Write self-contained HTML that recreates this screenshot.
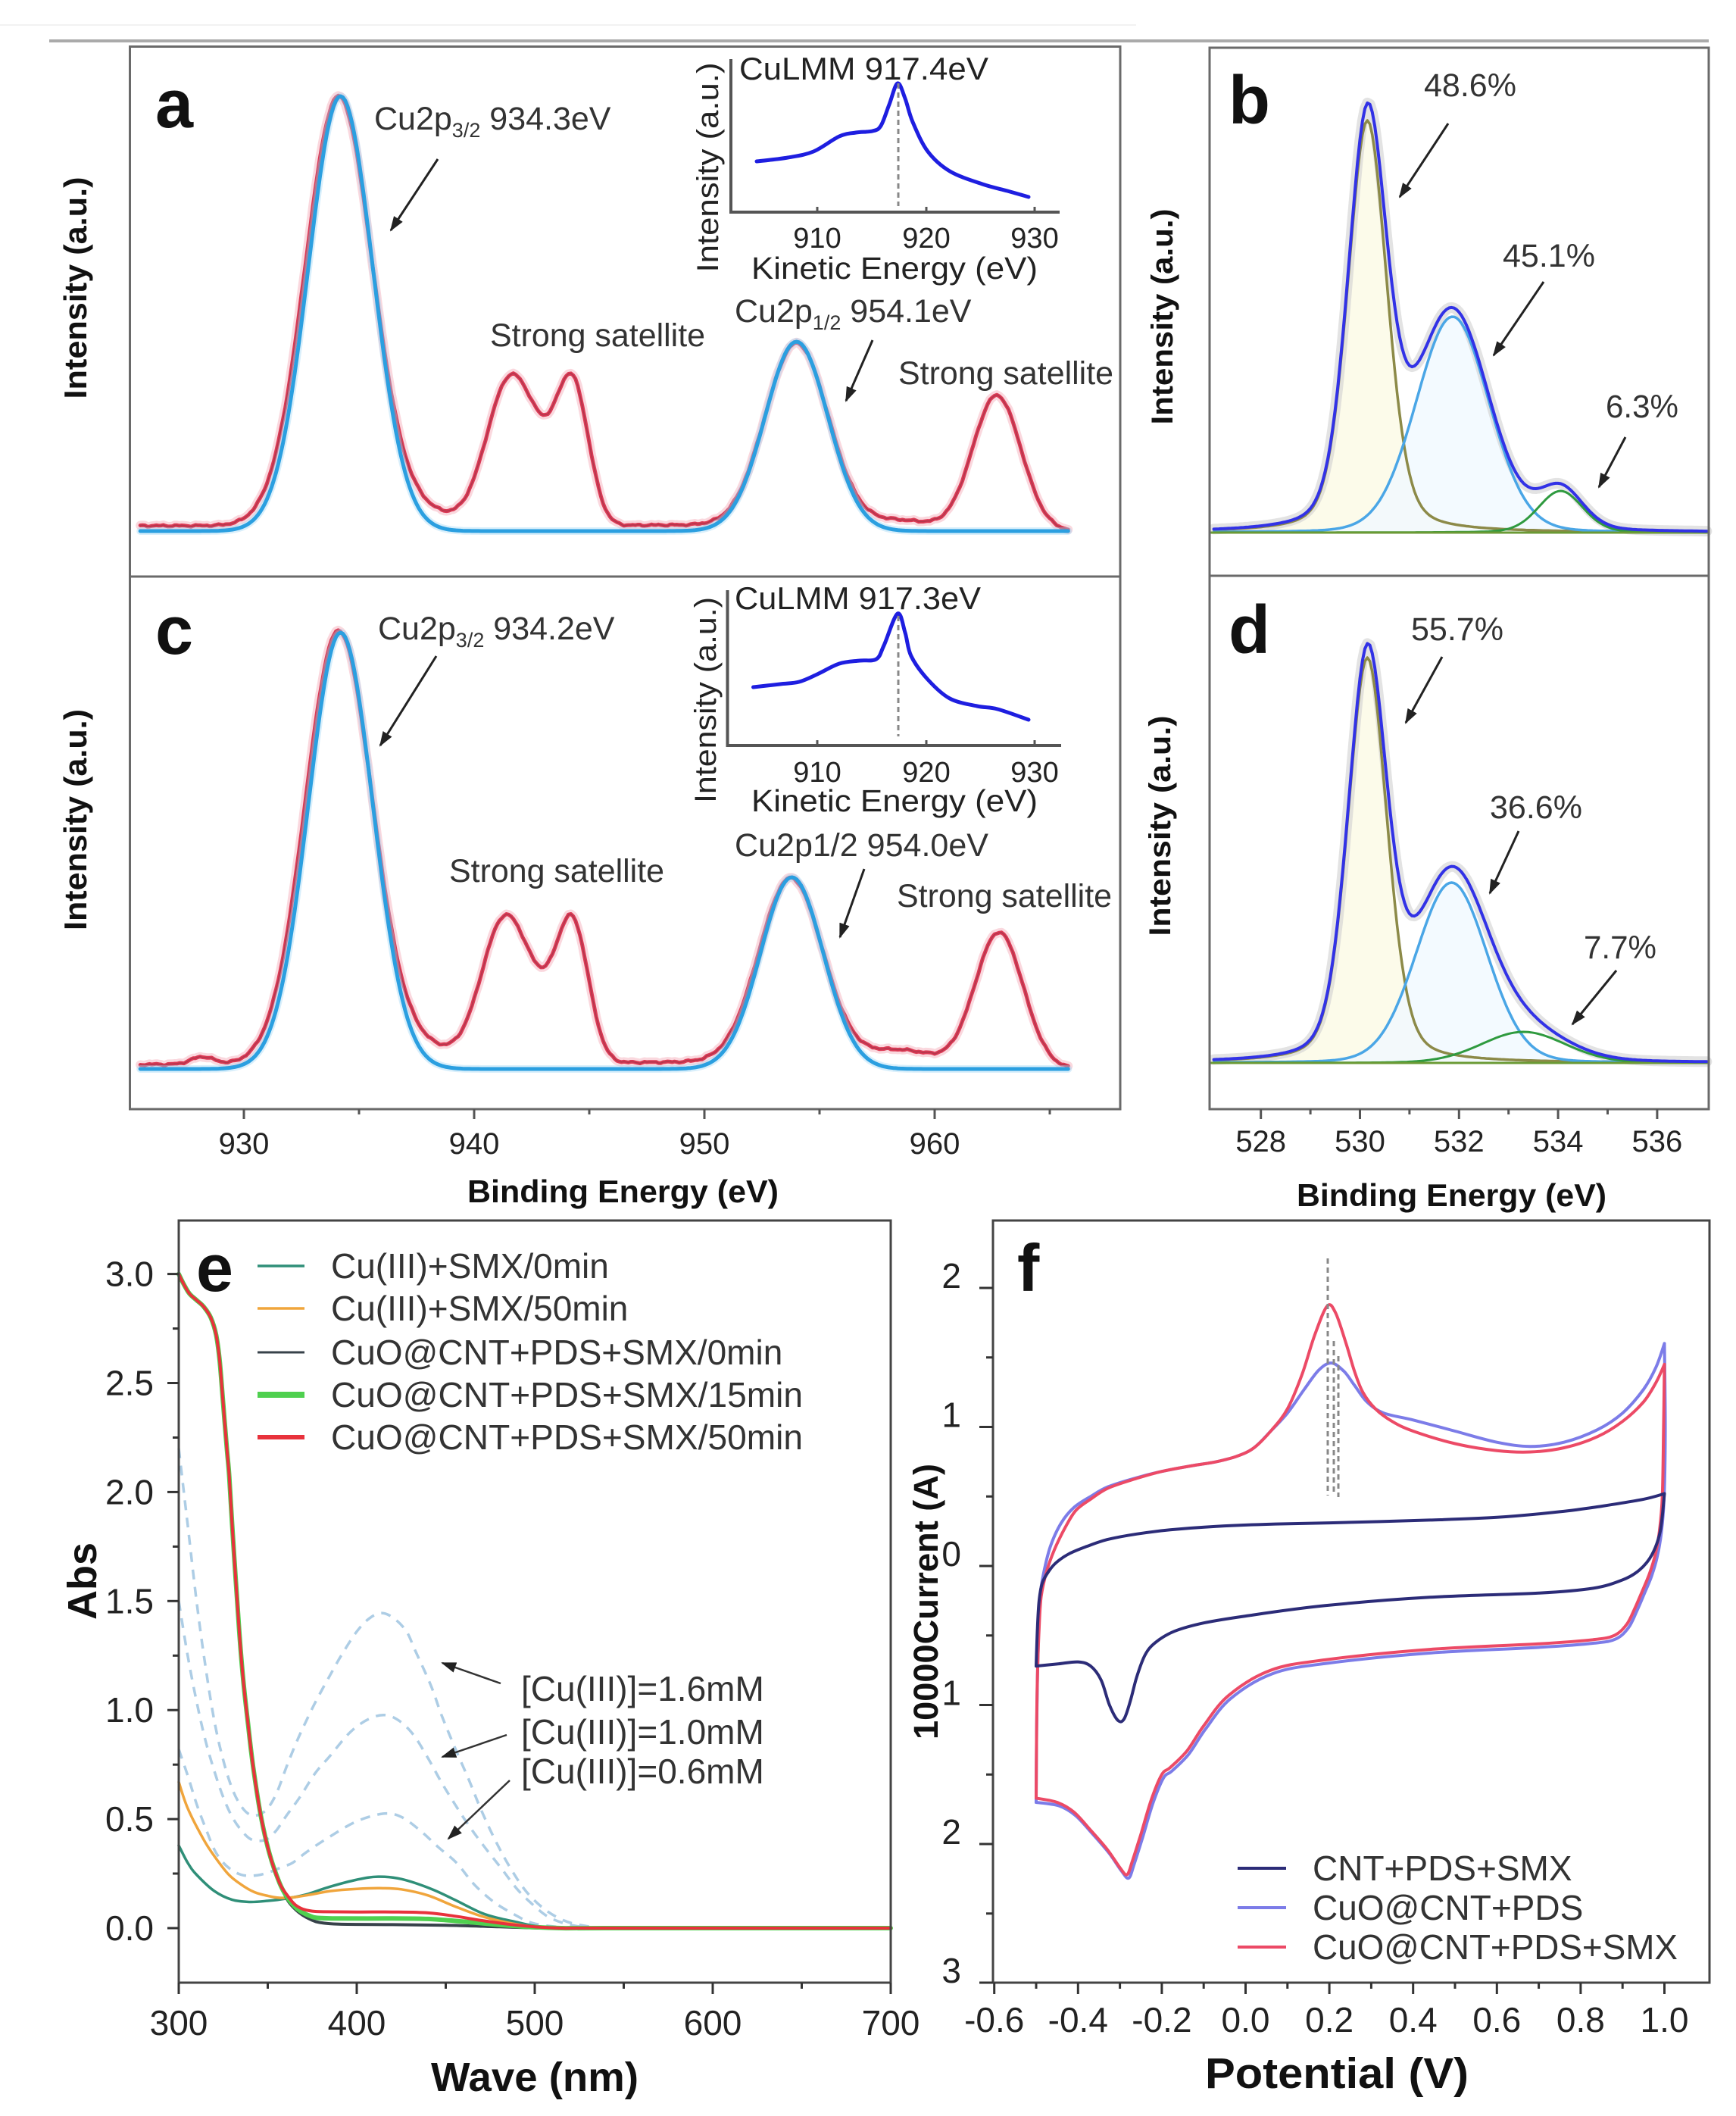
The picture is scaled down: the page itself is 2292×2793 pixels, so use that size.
<!DOCTYPE html>
<html><head><meta charset="utf-8"><title>XPS / UV / CV figure</title>
<style>
html,body{margin:0;padding:0;background:#fff;width:2292px;height:2793px;overflow:hidden}
svg text{font-family:"Liberation Sans",Arial,sans-serif;}
</style></head><body>
<svg id="s" xmlns="http://www.w3.org/2000/svg" width="2292" height="2793" viewBox="0 0 2292 2793">
<defs>
<marker id="ah" markerUnits="userSpaceOnUse" markerWidth="20" markerHeight="14" viewBox="0 0 20 14" refX="18" refY="7" orient="auto"><path d="M0,0 L20,7 L0,14 Z" fill="#222"/></marker>
</defs>
<rect width="2292" height="2793" fill="#fff"/>
<line x1="0" y1="33" x2="1500" y2="33" stroke="#f2f2f2" stroke-width="2"/>
<line x1="65" y1="54" x2="2256" y2="54" stroke="#aaa" stroke-width="4"/>

<g id="L"></g>

<!-- frames -->
<g fill="none" stroke="#6a6a6a" stroke-width="3">
<rect x="171.5" y="61.5" width="1307.5" height="1402.5"/>
<line x1="171.5" y1="761" x2="1479" y2="761"/>
<rect x="1597" y="63" width="659" height="1401"/>
<line x1="1597" y1="760" x2="2256" y2="760"/>
</g>
<g fill="none" stroke="#444" stroke-width="3">
<rect x="236" y="1611" width="940" height="1006"/>
<rect x="1311" y="1611" width="946" height="1006"/>
</g>

<!-- ticks a/c -->
<g stroke="#555" stroke-width="3">
<line x1="322" y1="1464" x2="322" y2="1477"/><line x1="626" y1="1464" x2="626" y2="1477"/><line x1="930" y1="1464" x2="930" y2="1477"/><line x1="1234" y1="1464" x2="1234" y2="1477"/>
<line x1="474" y1="1464" x2="474" y2="1471"/><line x1="778" y1="1464" x2="778" y2="1471"/><line x1="1082" y1="1464" x2="1082" y2="1471"/><line x1="1386" y1="1464" x2="1386" y2="1471"/>
<line x1="1664.7" y1="1464" x2="1664.7" y2="1477"/><line x1="1795.5" y1="1464" x2="1795.5" y2="1477"/><line x1="1926.3" y1="1464" x2="1926.3" y2="1477"/><line x1="2057.1" y1="1464" x2="2057.1" y2="1477"/><line x1="2187.9" y1="1464" x2="2187.9" y2="1477"/>
<line x1="1730.1" y1="1464" x2="1730.1" y2="1471"/><line x1="1860.9" y1="1464" x2="1860.9" y2="1471"/><line x1="1991.7" y1="1464" x2="1991.7" y2="1471"/><line x1="2122.5" y1="1464" x2="2122.5" y2="1471"/>
</g>
<g stroke="#333" stroke-width="3">
<line x1="236" y1="2617" x2="236" y2="2632"/><line x1="471" y1="2617" x2="471" y2="2632"/><line x1="706" y1="2617" x2="706" y2="2632"/><line x1="941" y1="2617" x2="941" y2="2632"/><line x1="1176" y1="2617" x2="1176" y2="2632"/>
<line x1="353.5" y1="2617" x2="353.5" y2="2625"/><line x1="588.5" y1="2617" x2="588.5" y2="2625"/><line x1="823.5" y1="2617" x2="823.5" y2="2625"/><line x1="1058.5" y1="2617" x2="1058.5" y2="2625"/>
<line x1="221" y1="2545" x2="236" y2="2545"/><line x1="221" y1="2401.1" x2="236" y2="2401.1"/><line x1="221" y1="2257.2" x2="236" y2="2257.2"/><line x1="221" y1="2113.3" x2="236" y2="2113.3"/><line x1="221" y1="1969.4" x2="236" y2="1969.4"/><line x1="221" y1="1825.5" x2="236" y2="1825.5"/><line x1="221" y1="1681.6" x2="236" y2="1681.6"/>
<line x1="228" y1="2473" x2="236" y2="2473"/><line x1="228" y1="2329.2" x2="236" y2="2329.2"/><line x1="228" y1="2185.3" x2="236" y2="2185.3"/><line x1="228" y1="2041.4" x2="236" y2="2041.4"/><line x1="228" y1="1897.5" x2="236" y2="1897.5"/><line x1="228" y1="1753.6" x2="236" y2="1753.6"/>
<line x1="1312.7" y1="2617" x2="1312.7" y2="2632"/><line x1="1423.3" y1="2617" x2="1423.3" y2="2632"/><line x1="1533.9" y1="2617" x2="1533.9" y2="2632"/><line x1="1644.5" y1="2617" x2="1644.5" y2="2632"/><line x1="1755.1" y1="2617" x2="1755.1" y2="2632"/><line x1="1865.7" y1="2617" x2="1865.7" y2="2632"/><line x1="1976.3" y1="2617" x2="1976.3" y2="2632"/><line x1="2086.9" y1="2617" x2="2086.9" y2="2632"/><line x1="2197.5" y1="2617" x2="2197.5" y2="2632"/>
<line x1="1368" y1="2617" x2="1368" y2="2625"/><line x1="1478.6" y1="2617" x2="1478.6" y2="2625"/><line x1="1589.2" y1="2617" x2="1589.2" y2="2625"/><line x1="1699.8" y1="2617" x2="1699.8" y2="2625"/><line x1="1810.4" y1="2617" x2="1810.4" y2="2625"/><line x1="1921" y1="2617" x2="1921" y2="2625"/><line x1="2031.6" y1="2617" x2="2031.6" y2="2625"/><line x1="2142.2" y1="2617" x2="2142.2" y2="2625"/>
<line x1="1293" y1="1700" x2="1311" y2="1700"/><line x1="1293" y1="1883.5" x2="1311" y2="1883.5"/><line x1="1293" y1="2067" x2="1311" y2="2067"/><line x1="1293" y1="2250.5" x2="1311" y2="2250.5"/><line x1="1293" y1="2434" x2="1311" y2="2434"/><line x1="1293" y1="2617" x2="1311" y2="2617"/>
<line x1="1302" y1="1791.75" x2="1311" y2="1791.75"/><line x1="1302" y1="1975.25" x2="1311" y2="1975.25"/><line x1="1302" y1="2158.75" x2="1311" y2="2158.75"/><line x1="1302" y1="2342.25" x2="1311" y2="2342.25"/><line x1="1302" y1="2525.75" x2="1311" y2="2525.75"/>
</g>

<!-- insets axes -->
<g fill="none" stroke="#555" stroke-width="4">
<polyline points="965,78 965,280 1399,280"/>
<polyline points="960.5,779 960.5,984 1401,984"/>
</g>
<g stroke="#555" stroke-width="3">
<line x1="1079" y1="280" x2="1079" y2="273"/><line x1="1223" y1="280" x2="1223" y2="273"/><line x1="1366" y1="280" x2="1366" y2="273"/>
<line x1="1079" y1="984" x2="1079" y2="977"/><line x1="1223" y1="984" x2="1223" y2="977"/><line x1="1366" y1="984" x2="1366" y2="977"/>
</g>
<g stroke="#888" stroke-width="3" stroke-dasharray="7,5">
<line x1="1186" y1="110" x2="1186" y2="272"/>
<line x1="1186" y1="813" x2="1186" y2="972"/>
<line x1="1753" y1="1661" x2="1753" y2="1974"/>
<line x1="1761" y1="1770" x2="1761" y2="1972"/>
<line x1="1767" y1="1790" x2="1767" y2="1976"/>
</g>

<!-- arrows -->
<g stroke="#222" stroke-width="3" marker-end="url(#ah)">
<line x1="578" y1="210" x2="516" y2="304"/>
<line x1="1152" y1="449" x2="1117" y2="529"/>
<line x1="576" y1="866" x2="502" y2="984"/>
<line x1="1141" y1="1147" x2="1109" y2="1237"/>
<line x1="1912" y1="163" x2="1848" y2="260"/>
<line x1="2038" y1="372" x2="1972" y2="469"/>
<line x1="2146" y1="577" x2="2111" y2="643"/>
<line x1="1904" y1="867" x2="1856" y2="954"/>
<line x1="2005" y1="1097" x2="1967" y2="1179"/>
<line x1="2134" y1="1281" x2="2076" y2="1352"/>
</g>
<g stroke="#333" stroke-width="2.5" marker-end="url(#ah)">
<line x1="661" y1="2222" x2="584" y2="2195"/>
<line x1="669" y1="2290" x2="584" y2="2319"/>
<line x1="673" y1="2350" x2="592" y2="2427"/>
</g>

<!-- panel letters -->
<g fill="#111">
<text x="205" y="168" font-size="90" font-weight="bold">a</text>
<text x="205" y="863" font-size="90" font-weight="bold">c</text>
<text x="1622" y="163" font-size="90" font-weight="bold">b</text>
<text x="1622" y="862" font-size="90" font-weight="bold">d</text>
<text x="259" y="1704" font-size="88" font-weight="bold">e</text>
<text x="1343" y="1704" font-size="88" font-weight="bold">f</text>
</g>
<g fill="#333" font-size="43">
<text x="494" y="171">Cu2p<tspan font-size="27" dy="10">3/2</tspan><tspan font-size="43" dy="-10"> 934.3eV</tspan></text>
<text x="647" y="457" textLength="284" lengthAdjust="spacingAndGlyphs">Strong satellite</text>
<text x="970" y="425">Cu2p<tspan font-size="27" dy="10">1/2</tspan><tspan font-size="43" dy="-10"> 954.1eV</tspan></text>
<text x="1186" y="507" textLength="284" lengthAdjust="spacingAndGlyphs">Strong satellite</text>
<text x="499" y="844">Cu2p<tspan font-size="27" dy="10">3/2</tspan><tspan font-size="43" dy="-10"> 934.2eV</tspan></text>
<text x="593" y="1164" textLength="284" lengthAdjust="spacingAndGlyphs">Strong satellite</text>
<text x="970" y="1130" textLength="335" lengthAdjust="spacingAndGlyphs">Cu2p1/2 954.0eV</text>
<text x="1184" y="1197" textLength="284" lengthAdjust="spacingAndGlyphs">Strong satellite</text>
<text x="1880" y="127" textLength="122" lengthAdjust="spacingAndGlyphs">48.6%</text>
<text x="1984" y="352" textLength="122" lengthAdjust="spacingAndGlyphs">45.1%</text>
<text x="2120" y="551" textLength="96" lengthAdjust="spacingAndGlyphs">6.3%</text>
<text x="1863" y="845" textLength="122" lengthAdjust="spacingAndGlyphs">55.7%</text>
<text x="1967" y="1080" textLength="122" lengthAdjust="spacingAndGlyphs">36.6%</text>
<text x="2091" y="1265" textLength="96" lengthAdjust="spacingAndGlyphs">7.7%</text>
</g>
<!-- inset texts -->
<g fill="#222">
<text x="976" y="105" font-size="42" textLength="329" lengthAdjust="spacingAndGlyphs">CuLMM 917.4eV</text>
<text x="1079" y="327" font-size="38" text-anchor="middle">910</text>
<text x="1223" y="327" font-size="38" text-anchor="middle">920</text>
<text x="1366" y="327" font-size="38" text-anchor="middle">930</text>
<text x="992" y="368" font-size="41" textLength="378" lengthAdjust="spacingAndGlyphs">Kinetic Energy (eV)</text>
<text transform="translate(948,221) rotate(-90)" text-anchor="middle" font-size="40" textLength="277" lengthAdjust="spacingAndGlyphs">Intensity (a.u.)</text>
<text x="970" y="804" font-size="42" textLength="325" lengthAdjust="spacingAndGlyphs">CuLMM 917.3eV</text>
<text x="1079" y="1032" font-size="38" text-anchor="middle">910</text>
<text x="1223" y="1032" font-size="38" text-anchor="middle">920</text>
<text x="1366" y="1032" font-size="38" text-anchor="middle">930</text>
<text x="992" y="1071" font-size="41" textLength="378" lengthAdjust="spacingAndGlyphs">Kinetic Energy (eV)</text>
<text transform="translate(945,924) rotate(-90)" text-anchor="middle" font-size="40" textLength="272" lengthAdjust="spacingAndGlyphs">Intensity (a.u.)</text>
</g>
<!-- axis labels -->
<g fill="#111">
<text transform="translate(114,380) rotate(-90)" text-anchor="middle" font-size="42" font-weight="bold" textLength="293" lengthAdjust="spacingAndGlyphs">Intensity (a.u.)</text>
<text transform="translate(114,1082) rotate(-90)" text-anchor="middle" font-size="42" font-weight="bold" textLength="292" lengthAdjust="spacingAndGlyphs">Intensity (a.u.)</text>
<text transform="translate(1548,418) rotate(-90)" text-anchor="middle" font-size="40" font-weight="bold" textLength="285" lengthAdjust="spacingAndGlyphs">Intensity (a.u.)</text>
<text transform="translate(1545,1090) rotate(-90)" text-anchor="middle" font-size="40" font-weight="bold" textLength="291" lengthAdjust="spacingAndGlyphs">Intensity (a.u.)</text>
<text x="617" y="1587" font-size="42" font-weight="bold" textLength="411" lengthAdjust="spacingAndGlyphs">Binding Energy (eV)</text>
<text x="1712" y="1592" font-size="42" font-weight="bold" textLength="409" lengthAdjust="spacingAndGlyphs">Binding Energy (eV)</text>
<text transform="translate(127,2087) rotate(-90)" text-anchor="middle" font-size="54" font-weight="bold">Abs</text>
<text x="569" y="2760" font-size="54" font-weight="bold" textLength="274" lengthAdjust="spacingAndGlyphs">Wave (nm)</text>
<text transform="translate(1238,2114) rotate(-90)" text-anchor="middle" font-size="45" font-weight="bold" textLength="364" lengthAdjust="spacingAndGlyphs">10000Current (A)</text>
<text x="1591" y="2756" font-size="57" font-weight="bold" textLength="348" lengthAdjust="spacingAndGlyphs">Potential (V)</text>
</g>
<!-- tick labels -->
<g fill="#222" font-size="40" text-anchor="middle">
<text x="322" y="1523">930</text><text x="626" y="1523">940</text><text x="930" y="1523">950</text><text x="1234" y="1523">960</text>
<text x="1664.7" y="1520">528</text><text x="1795.5" y="1520">530</text><text x="1926.3" y="1520">532</text><text x="2057.1" y="1520">534</text><text x="2187.9" y="1520">536</text>
</g>
<g fill="#222" font-size="46" text-anchor="end">
<text x="203" y="1697.6">3.0</text><text x="203" y="1841.5">2.5</text><text x="203" y="1985.4">2.0</text><text x="203" y="2129.3">1.5</text><text x="203" y="2273.2">1.0</text><text x="203" y="2417.1">0.5</text><text x="203" y="2561">0.0</text>
<text x="1269" y="1700">2</text><text x="1269" y="1883.5">1</text><text x="1269" y="2067">0</text><text x="1269" y="2250.5">1</text><text x="1269" y="2434">2</text><text x="1269" y="2617">3</text>
</g>
<g fill="#222" font-size="46" text-anchor="middle">
<text x="236" y="2686">300</text><text x="471" y="2686">400</text><text x="706" y="2686">500</text><text x="941" y="2686">600</text><text x="1176" y="2686">700</text>
<text x="1312.7" y="2682">-0.6</text><text x="1423.3" y="2682">-0.4</text><text x="1533.9" y="2682">-0.2</text><text x="1644.5" y="2682">0.0</text><text x="1755.1" y="2682">0.2</text><text x="1865.7" y="2682">0.4</text><text x="1976.3" y="2682">0.6</text><text x="2086.9" y="2682">0.8</text><text x="2197.5" y="2682">1.0</text>
</g>

<!-- legends -->
<g stroke-linecap="butt">
<line x1="340" y1="1671" x2="402" y2="1671" stroke="#2f8f78" stroke-width="3.5"/>
<line x1="340" y1="1727" x2="402" y2="1727" stroke="#f0a53c" stroke-width="3.5"/>
<line x1="340" y1="1785" x2="402" y2="1785" stroke="#37424a" stroke-width="3"/>
<line x1="340" y1="1841" x2="402" y2="1841" stroke="#4fd04f" stroke-width="8"/>
<line x1="340" y1="1897" x2="402" y2="1897" stroke="#e8323c" stroke-width="6"/>
<line x1="1634" y1="2466" x2="1698" y2="2466" stroke="#2c2c78" stroke-width="4"/>
<line x1="1634" y1="2518" x2="1698" y2="2518" stroke="#7c7ce8" stroke-width="4"/>
<line x1="1634" y1="2570" x2="1698" y2="2570" stroke="#ec4a66" stroke-width="4"/>
</g>
<g fill="#333" font-size="46">
<text x="437" y="1687">Cu(III)+SMX/0min</text>
<text x="437" y="1743">Cu(III)+SMX/50min</text>
<text x="437" y="1801">CuO@CNT+PDS+SMX/0min</text>
<text x="437" y="1857" textLength="623" lengthAdjust="spacingAndGlyphs">CuO@CNT+PDS+SMX/15min</text>
<text x="437" y="1913" textLength="623" lengthAdjust="spacingAndGlyphs">CuO@CNT+PDS+SMX/50min</text>
<text x="688" y="2245">[Cu(III)]=1.6mM</text>
<text x="688" y="2302">[Cu(III)]=1.0mM</text>
<text x="688" y="2354">[Cu(III)]=0.6mM</text>
<text x="1733" y="2482">CNT+PDS+SMX</text>
<text x="1733" y="2534">CuO@CNT+PDS</text>
<text x="1733" y="2586" textLength="482" lengthAdjust="spacingAndGlyphs">CuO@CNT+PDS+SMX</text>
</g>
</svg>
<script>
(function(){
var NS='http://www.w3.org/2000/svg', L=document.getElementById('L');
function r(v){return Math.round(v*10)/10;}
function add(d,a){var p=document.createElementNS(NS,'path');p.setAttribute('d',d);p.setAttribute('fill','none');p.setAttribute('stroke-linejoin','round');p.setAttribute('stroke-linecap','round');for(var k in a)p.setAttribute(k,a[k]);L.appendChild(p);return p;}
function poly(pts){return 'M'+pts.map(function(p){return r(p[0])+','+r(p[1]);}).join('L');}
function smooth(pts){
  var d='M'+r(pts[0][0])+','+r(pts[0][1]);
  for(var i=0;i<pts.length-1;i++){
    var p0=pts[i-1]||pts[i],p1=pts[i],p2=pts[i+1],p3=pts[i+2]||p2;
    var c1=[p1[0]+(p2[0]-p0[0])/6,p1[1]+(p2[1]-p0[1])/6];
    var c2=[p2[0]-(p3[0]-p1[0])/6,p2[1]-(p3[1]-p1[1])/6];
    d+='C'+r(c1[0])+','+r(c1[1])+' '+r(c2[0])+','+r(c2[1])+' '+r(p2[0])+','+r(p2[1]);
  }
  return d;
}
function G(x,c,a,s){var d=(x-c)/s;return a*Math.exp(-0.5*d*d);}
function PV(x,c,a,h,m){var d=(x-c)/h;return a*((1-m)*Math.exp(-0.693147*d*d)+m/(1+d*d));}
function sig(x,c,w){return 1/(1+Math.exp(-(x-c)/w));}
function sample(fn,e0,e1,st,X,Y){var o=[];for(var e=e0;e<=e1+1e-9;e+=st)o.push([X(e),Y(fn(e))]);return o;}
function tr(arr,X,Y){return arr.map(function(p){return [X(p[0]),Y(p[1])];});}
function noise(e,k){return 0.7*Math.sin(e*7.3+k)+0.5*Math.sin(e*13.7+2*k)+0.3*Math.sin(e*23.1+k);}

/* ---------- panels a & c ---------- */
var XA=function(e){return 322+(e-930)*30.4;};
var redA=function(e){return G(e,934.1,570,1.45)+G(e,937.5,25,1.8)+G(e,941.5,188,1.0)+G(e,943.0,60,0.9)+G(e,944.3,180,0.7)+7*(1-sig(e,931.5,0.4))+8*sig(e,945.5,0.5)*(1-sig(e,951,0.5))+G(e,954.0,248,1.38)+G(e,958.5,14,1.5)+G(e,962.7,179,1.05)+noise(e,0);};
var bluA=function(e){return G(e,934.2,574,1.4)+G(e,954.0,250,1.36);};
var redC=function(e){return G(e,934.1,574,1.45)+G(e,937.5,28,1.8)+G(e,941.3,190,1.0)+G(e,943.0,58,0.9)+G(e,944.3,178,0.7)+6*(1-sig(e,931.5,0.4))+G(e,928.2,10,0.5)+9*sig(e,945.5,0.5)*(1-sig(e,951,0.5))+G(e,953.75,252,1.4)+G(e,958.5,25,1.6)+G(e,962.8,180,1.05)+noise(e,1.7);};
var bluC=function(e){return G(e,934.2,576,1.4)+G(e,953.8,253,1.36);};
[[redA,bluA,701],[redC,bluC,1411]].forEach(function(q){
  var Y=function(v){return q[2]-v;};
  var rp=sample(q[0],925.5,965.8,0.1,XA,Y), bp=sample(q[1],925.5,965.8,0.1,XA,Y);
  add(poly(rp),{stroke:'#f4a8b6','stroke-width':12,'stroke-opacity':0.45});
  add(poly(rp),{stroke:'#dc3a55','stroke-width':5});
  add(poly(rp),{stroke:'#7d3545','stroke-width':1.5,'stroke-opacity':0.45});
  add(poly(bp),{stroke:'#9fd6f4','stroke-width':10,'stroke-opacity':0.4});
  add(poly(bp),{stroke:'#2b9fe0','stroke-width':5});
});
var insA=[[999,213],[1040,208],[1074,200],[1108,180],[1130,175],[1152,173],[1163,166],[1174,138],[1185,110],[1195,130],[1205,161],[1225,200],[1254,226],[1297,243],[1330,252],[1358,260]];
var insC=[[994.5,907],[1030,903],[1055,900],[1079,890],[1108,876],[1135,872],[1157,870],[1167,852],[1185,810],[1195,835],[1203,866],[1225,897],[1254,922],[1290,932],[1317,936],[1358,950]];
add(smooth(insA),{stroke:'#1e1ee0','stroke-width':5});
add(smooth(insC),{stroke:'#1e1ee0','stroke-width':5});

/* ---------- panels b & d ---------- */
var XB=function(e){return 1795.5+(e-530)*65.4;};
function drawB(base,O,Lb,Gr){
  var Y=function(v){return base-v;};
  var E=function(e){return O(e)+Lb(e)+Gr(e);};
  var op=sample(O,527.05,537,0.05,XB,Y), lp=sample(Lb,527.05,537,0.05,XB,Y), gp=sample(Gr,527.05,537,0.05,XB,Y), ep=sample(E,527.05,537,0.05,XB,Y);
  var fillO=poly(op)+'L'+r(XB(537))+','+base+'L'+r(XB(527.05))+','+base+'Z';
  var pf=add(fillO,{stroke:'none'}); pf.setAttribute('fill','#fcfbea');
  var fillL=poly(lp)+'L'+r(XB(537))+','+base+'L'+r(XB(527.05))+','+base+'Z';
  var pl=add(fillL,{stroke:'none'}); pl.setAttribute('fill','#f0f9ff'); pl.setAttribute('fill-opacity','0.8');
  add(poly(ep),{stroke:'#d0d0d0','stroke-width':14,'stroke-opacity':0.6});
  add(poly(op),{stroke:'#8c8a48','stroke-width':3.5});
  add(poly(lp),{stroke:'#4aa6e6','stroke-width':3.5});
  add(poly(gp),{stroke:'#2f9a3f','stroke-width':3});
  add('M1599,'+base+'L2254,'+base,{stroke:'#6b9a35','stroke-width':3});
  add(poly(ep),{stroke:'#3232e6','stroke-width':4});
}
drawB(703,function(e){return PV(e,530.15,544,0.47,0.3);},function(e){return PV(e,531.87,285,0.87,0.1);},function(e){return PV(e,534.05,55,0.53,0.2);});
drawB(1403,function(e){return PV(e,530.15,535,0.47,0.3);},function(e){return PV(e,531.85,238,0.85,0.1);},function(e){return PV(e,533.3,41,1.0,0.1);});

/* ---------- panel e ---------- */
var XE=function(w){return 236+(w-300)*2.35;}, YE=function(a){return 2545-a*287.8;};
var dashA=[[300,2.2],[305,1.85],[310,1.5],[315,1.2],[320,0.95],[325,0.77],[330,0.64],[335,0.56],[340,0.52],[345,0.52],[350,0.55],[355,0.62],[361,0.75],[366,0.85],[371,0.94],[377,1.04],[385,1.16],[392,1.26],[400,1.36],[407,1.42],[414,1.445],[421,1.42],[428,1.36],[433,1.27],[441.8,1.11],[447.5,0.98],[455,0.83],[463,0.68],[470,0.54],[478,0.4],[486,0.28],[495,0.17],[505,0.09],[515,0.04],[525,0.015],[540,0],[560,0],[700,0]];
var dashB=[[300,1.5],[305,1.25],[310,1.04],[315,0.86],[320,0.72],[325,0.6],[330,0.51],[335,0.45],[340,0.41],[345,0.4],[350,0.41],[355,0.45],[360,0.51],[368,0.6],[376.6,0.71],[385,0.79],[396.5,0.9],[407,0.96],[416,0.977],[424,0.95],[432,0.885],[440,0.78],[447.5,0.67],[455,0.57],[463,0.47],[472,0.37],[481.6,0.27],[490,0.18],[498.6,0.11],[508,0.05],[520,0.015],[535,0],[560,0],[700,0]];
var dashC=[[300,0.82],[305,0.7],[310,0.57],[315,0.46],[320,0.36],[325,0.3],[330,0.265],[335,0.245],[340,0.24],[346,0.245],[352,0.26],[358,0.28],[364,0.3],[372,0.35],[385,0.42],[400,0.49],[415,0.525],[425,0.51],[436,0.445],[446,0.37],[456,0.3],[466,0.2],[477,0.12],[488,0.065],[498,0.025],[510,0.008],[525,0],[560,0],[700,0]];
[dashA,dashB,dashC].forEach(function(d){add(smooth(tr(d,XE,YE)),{stroke:'#9fc4e0','stroke-width':3.5,'stroke-opacity':0.85,'stroke-dasharray':'13,10','stroke-linecap':'butt'});});
var teal=[[300,0.379],[305,0.3],[310,0.245],[320,0.17],[330,0.13],[340,0.12],[350,0.125],[360,0.135],[371,0.153],[385,0.19],[400,0.222],[412,0.236],[425,0.225],[441.8,0.18],[455,0.13],[470,0.07],[480,0.045],[488.7,0.03],[500,0.01],[515,0],[540,0],[700,0]];
var oran=[[300,0.67],[305,0.55],[314,0.406],[320,0.33],[328,0.246],[335,0.2],[342.5,0.165],[350,0.148],[356.7,0.139],[365,0.142],[375,0.155],[385,0.17],[400,0.18],[413,0.183],[425,0.178],[440,0.15],[455,0.1],[470,0.055],[485,0.025],[500,0.006],[515,0],[540,0],[700,0]];
var top=[[300,3.0],[303,2.95],[306,2.91],[310,2.88],[314,2.85],[318,2.8],[321,2.72],[323,2.6],[325,2.4],[327,2.2],[328.4,2.07],[330,1.85],[332,1.6],[334,1.36],[336.2,1.14],[339,0.93],[341.8,0.74],[346,0.52],[351,0.34],[356.7,0.206]];
var redT=[[361,0.15],[365,0.11],[369.5,0.088],[375,0.078],[382,0.075],[400,0.074],[420,0.074],[440,0.07],[455,0.055],[470,0.035],[485,0.018],[500,0.006],[515,0],[540,0],[700,0]];
var grnT=[[361,0.14],[365,0.1],[369.5,0.072],[374,0.055],[378,0.047],[390,0.044],[420,0.044],[440,0.042],[460,0.03],[480,0.015],[500,0.004],[515,0],[540,0],[700,0]];
var drkT=[[361,0.13],[365,0.09],[369.5,0.06],[374,0.04],[379,0.026],[390,0.018],[420,0.016],[450,0.013],[480,0.006],[500,0.001],[515,0],[540,0],[700,0]];
add(smooth(tr(teal,XE,YE)),{stroke:'#2f8f78','stroke-width':3.5});
add(smooth(tr(oran,XE,YE)),{stroke:'#f0a53c','stroke-width':3.5});
add(smooth(tr(top.concat(drkT),XE,YE)),{stroke:'#37424a','stroke-width':4});
add(smooth(tr(top.concat(grnT),XE,YE)),{stroke:'#4fd04f','stroke-width':6});
add(smooth(tr(top.concat(redT),XE,YE)),{stroke:'#e8323c','stroke-width':4});

/* ---------- panel f ---------- */
var XF=function(v){return 1644.5+v*553;}, YF=function(i){return 2067-i*183.5;};
var navU=[[-0.5,-0.72],[-0.497,-0.45],[-0.493,-0.25],[-0.485,-0.12],[-0.468,-0.03],[-0.45,0.03],[-0.42,0.09],[-0.38,0.14],[-0.33,0.19],[-0.26,0.23],[-0.18,0.26],[-0.07,0.285],[0.05,0.3],[0.2,0.31],[0.44,0.33],[0.6,0.35],[0.75,0.39],[0.85,0.43],[0.95,0.48],[1.0,0.52]];
var navL=[[-0.5,-0.72],[-0.45,-0.705],[-0.4,-0.69],[-0.37,-0.72],[-0.345,-0.82],[-0.325,-1.0],[-0.305,-1.11],[-0.29,-1.1],[-0.275,-0.97],[-0.26,-0.8],[-0.24,-0.64],[-0.215,-0.55],[-0.17,-0.47],[-0.1,-0.41],[0.0,-0.36],[0.19,-0.285],[0.44,-0.225],[0.7,-0.195],[0.83,-0.16],[0.9,-0.1],[0.94,-0.03],[0.97,0.08],[0.99,0.25],[1.0,0.52]];
var redU=[[-0.5,-1.67],[-0.499,-1.2],[-0.497,-0.8],[-0.493,-0.45],[-0.488,-0.22],[-0.475,-0.04],[-0.456,0.12],[-0.43,0.28],[-0.405,0.4],[-0.37,0.48],[-0.328,0.56],[-0.26,0.63],[-0.2,0.68],[-0.13,0.72],[-0.07,0.75],[-0.02,0.79],[0.02,0.85],[0.06,0.97],[0.1,1.13],[0.135,1.38],[0.165,1.66],[0.195,1.87],[0.215,1.82],[0.24,1.6],[0.26,1.4],[0.28,1.25],[0.31,1.13],[0.35,1.04],[0.4,0.97],[0.5,0.88],[0.6,0.83],[0.68,0.82],[0.76,0.85],[0.84,0.93],[0.9,1.04],[0.95,1.18],[0.98,1.32],[1.0,1.45]];
var bluU=[[-0.5,-1.7],[-0.499,-1.2],[-0.497,-0.8],[-0.494,-0.45],[-0.49,-0.2],[-0.48,-0.02],[-0.465,0.15],[-0.44,0.31],[-0.41,0.42],[-0.37,0.5],[-0.328,0.57],[-0.26,0.635],[-0.2,0.68],[-0.13,0.72],[-0.07,0.75],[-0.02,0.79],[0.02,0.85],[0.06,0.97],[0.1,1.1],[0.14,1.27],[0.175,1.41],[0.205,1.46],[0.235,1.4],[0.26,1.3],[0.29,1.18],[0.33,1.1],[0.4,1.05],[0.5,0.97],[0.6,0.89],[0.68,0.86],[0.76,0.89],[0.84,0.98],[0.9,1.1],[0.95,1.27],[0.98,1.43],[1.0,1.6]];
var redL=[[1.0,1.45],[0.998,1.0],[0.995,0.5],[0.988,0.25],[0.978,0.08],[0.965,-0.05],[0.95,-0.16],[0.93,-0.3],[0.91,-0.42],[0.88,-0.5],[0.83,-0.53],[0.7,-0.56],[0.44,-0.6],[0.19,-0.675],[0.06,-0.75],[-0.04,-0.93],[-0.1,-1.15],[-0.14,-1.33],[-0.18,-1.45],[-0.2,-1.5],[-0.225,-1.68],[-0.25,-1.93],[-0.27,-2.12],[-0.283,-2.22],[-0.3,-2.17],[-0.33,-2.04],[-0.37,-1.9],[-0.41,-1.77],[-0.45,-1.7],[-0.5,-1.67]];
var bluL=redL.map(function(p,i){return [p[0]+(i>0&&i<redL.length-1?0.004:0),p[1]-0.025];}); bluL[0]=[1.0,1.6]; bluL[bluL.length-1]=[-0.5,-1.7];
add(smooth(tr(bluU,XF,YF)),{stroke:'#7c7ce8','stroke-width':4});
add(smooth(tr(bluL,XF,YF)),{stroke:'#7c7ce8','stroke-width':4});
add(smooth(tr(redU,XF,YF)),{stroke:'#ec4a66','stroke-width':4});
add(smooth(tr(redL,XF,YF)),{stroke:'#ec4a66','stroke-width':4});
add(smooth(tr(navU,XF,YF)),{stroke:'#2c2c78','stroke-width':4});
add(smooth(tr(navL,XF,YF)),{stroke:'#2c2c78','stroke-width':4});
})();
</script>
</body></html>
